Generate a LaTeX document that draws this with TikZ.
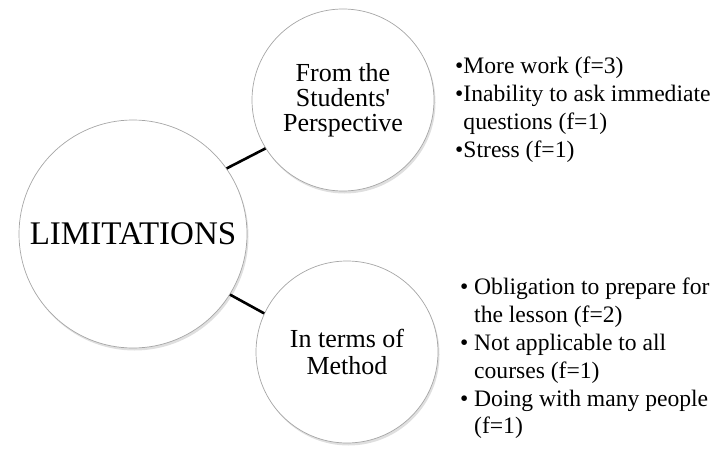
\documentclass[tikz,border=0pt]{standalone}
\usepackage{fontspec}
\setmainfont{Liberation Serif}
\usetikzlibrary{shadows}

\tikzset{
  bubble/.style={circle, draw=gray!70, line width=0.7pt, fill=white,
    drop shadow={shadow xshift=1.5pt, shadow yshift=-2.5pt, opacity=0.25, fill=gray},
    align=center, inner sep=0pt},
  link/.style={line width=2.6pt, black},
  items/.style={align=left, inner sep=0pt, anchor=north west,
    font=\fontsize{23.6}{27.8}\selectfont}
}
\newcommand{\bul}{\makebox[14pt][l]{•}}

\begin{document}
\begin{tikzpicture}[x=1pt,y=-1pt]
\useasboundingbox (0,0) rectangle (727,449);

% circles
\node[bubble, minimum size=228pt, font=\fontsize{33}{38}\selectfont] (lim) at (133,234) {LIMITATIONS};
\node[bubble, minimum size=182pt, font=\fontsize{26}{25}\selectfont] (stud) at (343,100) {From the\\Students\textquotesingle\\Perspective};
\node[bubble, minimum size=182pt, font=\fontsize{26}{27}\selectfont] (meth) at (347,352) {In terms of\\Method};

% connectors
\draw[link] (lim.35) -- (stud.212);
\draw[link] (lim.-32) -- (meth.155);

% lists
\node[items] (studlist) at (455,57) {•More work (f=3)\\
  •Inability to ask immediate\\
  \phantom{•}questions (f=1)\\
  •Stress (f=1)};
\node[items] (methlist) at (460,278) {\bul Obligation to prepare for\\
  \phantom{\bul}the lesson (f=2)\\
  \bul Not applicable to all\\
  \phantom{\bul}courses (f=1)\\
  \bul Doing with many people\\
  \phantom{\bul}(f=1)};
\end{tikzpicture}
\end{document}
